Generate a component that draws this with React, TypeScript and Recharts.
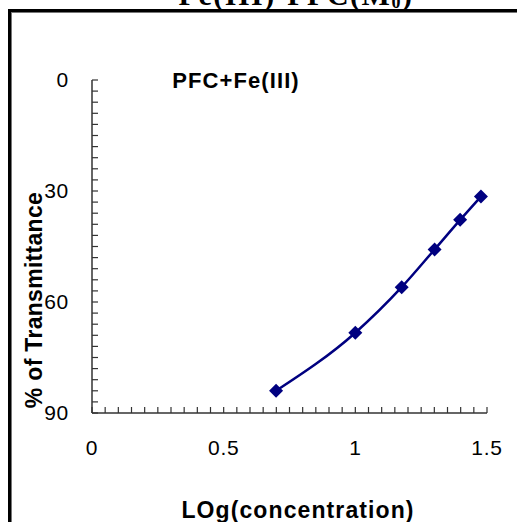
import React from "react"
import { Line, LineChart, XAxis, YAxis } from "recharts"

const logConc = [0.699, 1.0, 1.176, 1.301, 1.398, 1.477]
const transmittance = [84, 68.3, 56, 45.8, 37.8, 31.5]

const xMajor = [0, 0.5, 1, 1.5]
const yMajor = [0, 30, 60, 90]
const xTicks = Array.from({ length: 31 }, (_, i) => Math.round(i * 5) / 100)
const yTicks = Array.from({ length: 31 }, (_, i) => i * 3)

const data = logConc.map((x, i) => ({ x, y: transmittance[i] }))

const navy = "#000080"
const axisColor = "#333"
const sans = "'Liberation Sans', Arial, sans-serif"

function XTick(props: any) {
  const { x, y, payload } = props
  const v = payload.value
  const major = xMajor.some((m) => Math.abs(m - v) < 1e-6)
  return (
    <g>
      <line x1={x} y1={y} x2={x} y2={y - 6} stroke={axisColor} strokeWidth={1.2} />
      {major && (
        <text x={x} y={y + 42} textAnchor="middle" fontFamily={sans} fontSize={21} letterSpacing={0.7} fill="#000">
          {String(v)}
        </text>
      )}
    </g>
  )
}

function YTick(props: any) {
  const { x, y, payload } = props
  const v = payload.value
  const major = yMajor.includes(v)
  return (
    <g>
      <line x1={x} y1={y} x2={x + 6} y2={y} stroke={axisColor} strokeWidth={1.2} />
      {major && (
        <text x={x - 23} y={y + 7} textAnchor="end" fontFamily={sans} fontSize={21} letterSpacing={0.7} fill="#000">
          {String(v)}
        </text>
      )}
    </g>
  )
}

function Diamond(props: any) {
  const { cx, cy } = props
  if (cx == null || cy == null) return null
  const r = 7
  return <polygon points={`${cx},${cy - r} ${cx + r},${cy} ${cx},${cy + r} ${cx - r},${cy}`} fill={navy} />
}

export default function App() {
  return (
    <div style={{ position: "absolute", left: 0, top: 0, width: 517, height: 522, background: "#fff", overflow: "hidden" }}>
      <LineChart
        width={517}
        height={522}
        data={data}
        margin={{ top: 80, right: 30, left: 32, bottom: 79 }}
      >
        <XAxis
          type="number"
          dataKey="x"
          domain={[0, 1.5]}
          ticks={xTicks}
          interval={0}
          tickSize={0}
          tickMargin={0}
          tickLine={false}
          tick={<XTick />}
          height={30}
          stroke={axisColor}
          strokeWidth={1.5}
        />
        <YAxis
          type="number"
          dataKey="y"
          domain={[0, 90]}
          reversed
          ticks={yTicks}
          interval={0}
          tickSize={0}
          tickMargin={0}
          tickLine={false}
          tick={<YTick />}
          width={60}
          stroke={axisColor}
          strokeWidth={1.5}
        />
        <Line
          type="monotone"
          dataKey="y"
          stroke={navy}
          strokeWidth={2.5}
          dot={<Diamond />}
          activeDot={false}
          isAnimationActive={false}
        />
      </LineChart>
      <svg width={517} height={522} style={{ position: "absolute", left: 0, top: 0, pointerEvents: "none" }}>
        <rect x={8} y={9} width={509} height={3} fill="#000" />
        <rect x={8} y={9} width={3} height={513} fill="#000" />
        <rect x={11} y={12} width={506} height={1} fill="#777" />
        <rect x={11} y={12} width={1} height={510} fill="#777" />
        <text x={296} y={5} textAnchor="middle" fontFamily="'Liberation Serif', 'Times New Roman', serif" fontWeight="bold" fontSize={30} letterSpacing={1.5} fill="#000">
          Fe(III)-PFC(M<tspan fontSize={18} dy={3}>0</tspan><tspan dy={-3}>)</tspan>
        </text>
        <text x={236} y={88} textAnchor="middle" fontFamily={sans} fontWeight="bold" fontSize={22} letterSpacing={1.1} fill="#000">
          PFC+Fe(III)
        </text>
        <text x={298} y={518} textAnchor="middle" fontFamily={sans} fontWeight="bold" fontSize={23} letterSpacing={1.1} fill="#000">
          LOg(concentration)
        </text>
        <text transform="translate(42,300) rotate(-90)" textAnchor="middle" fontFamily={sans} fontWeight="bold" fontSize={23} letterSpacing={0.3} fill="#000">
          % of Transmittance
        </text>
      </svg>
    </div>
  )
}
